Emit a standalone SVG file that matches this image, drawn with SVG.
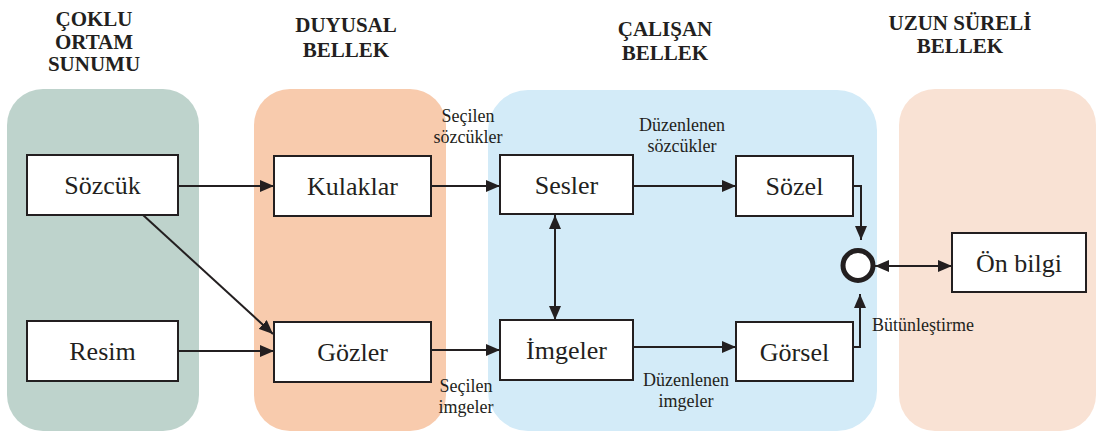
<svg xmlns="http://www.w3.org/2000/svg" width="1097" height="437" viewBox="0 0 1097 437">
  <style>
    text { font-family: 'Liberation Serif', 'Times New Roman', Times, serif; fill: #231f20; }
    .head { font-weight: bold; font-size: 21px; text-anchor: middle; }
    .box { fill: #ffffff; stroke: #231f20; stroke-width: 2; }
    .boxtxt { font-size: 26px; text-anchor: middle; }
    .lbl { font-size: 18px; text-anchor: middle; }
    .wire { fill: none; stroke: #231f20; stroke-width: 2; }
  </style>
  <defs>
    <marker id="arrow" viewBox="0 0 14 12" refX="14" refY="6" markerWidth="14" markerHeight="12" markerUnits="userSpaceOnUse" orient="auto-start-reverse">
      <path d="M0,0 L14,6 L0,12 Z" fill="#231f20"/>
    </marker>
  </defs>

  <rect width="1097" height="437" fill="#ffffff"/>

  <!-- stage panels -->
  <g id="panels">
    <rect x="7" y="89" width="192" height="342" rx="36" fill="#bed3cc"/>
    <rect x="254" y="89" width="192" height="342" rx="36" fill="#f8cbad"/>
    <rect x="488" y="90" width="389" height="341" rx="40" fill="#d3ebf8"/>
    <rect x="899" y="89" width="197" height="342" rx="36" fill="#f9e2d4"/>
  </g>

  <!-- stage headings -->
  <g id="headings" font-family="Liberation Serif, serif">
    <text class="head" x="94" y="26">ÇOKLU</text>
    <text class="head" x="94" y="48.5">ORTAM</text>
    <text class="head" x="94" y="71">SUNUMU</text>
    <text class="head" x="346" y="32">DUYUSAL</text>
    <text class="head" x="346" y="57">BELLEK</text>
    <text class="head" x="665" y="36">ÇALIŞAN</text>
    <text class="head" x="665" y="60">BELLEK</text>
    <text class="head" x="960" y="30">UZUN SÜRELİ</text>
    <text class="head" x="960" y="53">BELLEK</text>
  </g>

  <!-- connectors -->
  <g id="connectors">
    <line class="wire" x1="178" y1="186" x2="274" y2="186" marker-end="url(#arrow)"/>
    <line class="wire" x1="143" y1="215" x2="273" y2="334" marker-end="url(#arrow)"/>
    <line class="wire" x1="178" y1="351" x2="274" y2="351" marker-end="url(#arrow)"/>
    <line class="wire" x1="431" y1="186" x2="500" y2="186" marker-end="url(#arrow)"/>
    <line class="wire" x1="431" y1="350" x2="500" y2="350" marker-end="url(#arrow)"/>
    <line class="wire" x1="633" y1="186" x2="736" y2="186" marker-end="url(#arrow)"/>
    <line class="wire" x1="633" y1="347" x2="736" y2="347" marker-end="url(#arrow)"/>
    <line class="wire" x1="555" y1="215" x2="555" y2="320" marker-start="url(#arrow)" marker-end="url(#arrow)"/>
    <path class="wire" d="M853,186 H861 V240" marker-end="url(#arrow)"/>
    <path class="wire" d="M853,347 H860 V294" marker-end="url(#arrow)"/>
    <line class="wire" x1="875" y1="266" x2="952" y2="266" marker-start="url(#arrow)" marker-end="url(#arrow)"/>
  </g>

  <!-- connector labels -->
  <g id="labels">
    <text class="lbl" x="468" y="122">Seçilen</text>
    <text class="lbl" x="468" y="143">sözcükler</text>
    <text class="lbl" x="682" y="131">Düzenlenen</text>
    <text class="lbl" x="682" y="152">sözcükler</text>
    <text class="lbl" x="466" y="392">Seçilen</text>
    <text class="lbl" x="466" y="413">imgeler</text>
    <text class="lbl" x="686" y="386">Düzenlenen</text>
    <text class="lbl" x="686" y="407">imgeler</text>
    <text class="lbl" x="872" y="331" style="text-anchor:start">Bütünleştirme</text>
  </g>

  <!-- nodes -->
  <g id="sozcuk">
    <rect class="box" x="27" y="155" width="151" height="60"/>
    <text class="boxtxt" x="102.5" y="194">Sözcük</text>
  </g>
  <g id="resim">
    <rect class="box" x="27" y="321" width="151" height="60"/>
    <text class="boxtxt" x="102.5" y="360">Resim</text>
  </g>
  <g id="kulaklar">
    <rect class="box" x="274" y="156" width="157" height="60"/>
    <text class="boxtxt" x="352.5" y="195">Kulaklar</text>
  </g>
  <g id="gozler">
    <rect class="box" x="274" y="322" width="157" height="60"/>
    <text class="boxtxt" x="352.5" y="361">Gözler</text>
  </g>
  <g id="sesler">
    <rect class="box" x="500" y="155" width="133" height="59"/>
    <text class="boxtxt" x="566.5" y="194">Sesler</text>
  </g>
  <g id="imgeler">
    <rect class="box" x="500" y="320" width="133" height="60"/>
    <text class="boxtxt" x="566.5" y="359">İmgeler</text>
  </g>
  <g id="sozel">
    <rect class="box" x="736" y="156" width="117" height="60"/>
    <text class="boxtxt" x="794.5" y="195">Sözel</text>
  </g>
  <g id="gorsel">
    <rect class="box" x="736" y="322" width="117" height="59"/>
    <text class="boxtxt" x="794.5" y="361">Görsel</text>
  </g>
  <g id="butunlestirme">
    <circle cx="858" cy="265.5" r="15" fill="#ffffff" stroke="#231f20" stroke-width="5"/>
  </g>
  <g id="onbilgi">
    <rect class="box" x="952" y="233" width="134" height="59"/>
    <text class="boxtxt" x="1019" y="272">Ön bilgi</text>
  </g>
</svg>
